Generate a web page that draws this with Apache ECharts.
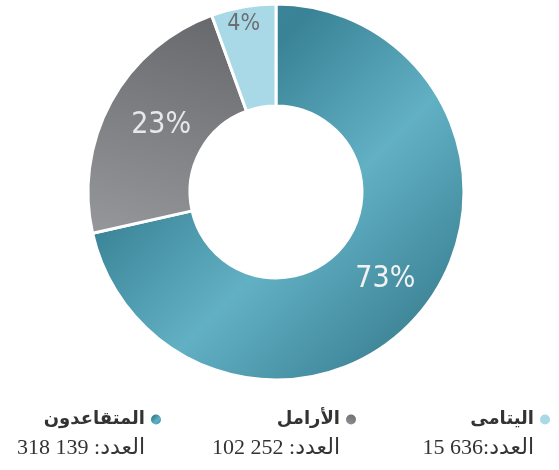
<!DOCTYPE html>
<html>
<head>
<meta charset="utf-8">
<script src="https://cdn.jsdelivr.net/npm/echarts@6/dist/echarts.min.js"></script>
<style>
	html, body { margin: 0; padding: 0; background: #fff; }
	#chart { width: 559px; height: 470px; }
</style>
</head>
<body>
<div id="chart"></div>
<script>
// categories (clockwise from 12 o'clock)
const names = ['المتقاعدون', 'الأرامل', 'اليتامى'];
const counts = [318139, 102252, 15636];
const countTexts = ['العدد: 139 318', 'العدد: 252 102', 'العدد:636 15'];

const tealFill = {
	type: 'linear', x: 0, y: 0, x2: 1, y2: 1,
	colorStops: [
		{ offset: 0, color: '#408a9d' },
		{ offset: 0.3, color: '#3a8396' },
		{ offset: 0.58, color: '#62b0c4' },
		{ offset: 0.84, color: '#41889b' },
		{ offset: 1, color: '#4c95a8' },
	],
};
const grayFill = {
	type: 'linear', x: 0.7, y: 0, x2: 0.3, y2: 1,
	colorStops: [
		{ offset: 0, color: '#68696d' },
		{ offset: 1, color: '#949599' },
	],
};
const lightFill = '#a9d9e6';

const fills = [tealFill, grayFill, lightFill];
const labelColors = ['#f2f2f2', '#e8e8ea', '#6d6e72'];

let pieData = names.map((n, i) => ({
	name: n,
	value: counts[i],
	itemStyle: { color: fills[i] },
	label: { color: labelColors[i] },
}));
pieData[2].label.fontSize = 23;

function makeLegend(idx, right) {
	return {
		data: [names[idx]],
		right: right,
		top: 376,
		padding: 0,
		orient: 'horizontal',
		align: 'right',
		icon: 'circle',
		itemWidth: 12,
		itemHeight: 12,
		itemGap: 0,
		selectedMode: false,
		formatter: function(name) {
			let i = names.indexOf(name);
			return ' \n{n|' + name + '}\n{v|' + countTexts[i] + '}';
		},
		textStyle: {
			lineHeight: 29,
			fontSize: 10,
			rich: {
				n: {
					fontFamily: 'DejaVu Sans',
					fontSize: 18,
					fontWeight: 'bold',
					color: '#333',
					lineHeight: 29,
					align: 'right',
				},
				v: {
					fontFamily: 'Liberation Serif, DejaVu Sans',
					fontSize: 22,
					color: '#333',
					lineHeight: 29,
					align: 'right',
				},
			},
		},
	};
}

var myChart = echarts.init(document.getElementById('chart'));
var option = {
	animation: false,
	legend: [makeLegend(0, 396), makeLegend(1, 201), makeLegend(2, 7)],
	series: [
		{
			type: 'pie',
			center: [276, 192],
			radius: [86, 188],
			startAngle: 90,
			clockwise: true,
			minAngle: 20,
			percentPrecision: 0,
			avoidLabelOverlap: false,
			itemStyle: {
				borderColor: '#ffffff',
				borderWidth: 3,
			},
			label: {
				show: true,
				position: 'inside',
				formatter: '{d}%',
				fontFamily: 'DejaVu Sans Condensed',
				fontSize: 30,
			},
			// small slice label sits near the outer rim
			labelLayout: function(params) {
				if (params.dataIndex === 2) {
					return { dx: -8, dy: -30 };
				}
				if (params.dataIndex === 1) {
					return { dx: 8, dy: 0 };
				}
			},
			labelLine: { show: false },
			emphasis: { disabled: true },
			data: pieData,
		},
	],
};
option && myChart.setOption(option);
</script>
</body>
</html>
